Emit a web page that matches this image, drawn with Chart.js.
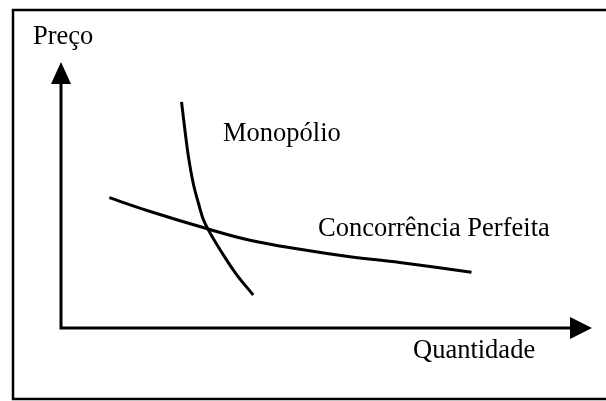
<!DOCTYPE html>
<html>
<head>
<meta charset="utf-8">
<script src="https://cdn.jsdelivr.net/npm/chart.js@4/dist/chart.umd.min.js"></script>
<style>
  html, body { margin: 0; padding: 0; background: #fff; }
  #wrap { width: 606px; height: 401px; }
</style>
</head>
<body>
<div id="wrap"><canvas id="marketChart" width="606" height="401"></canvas></div>
<script>
// curves (quantity 0..100, price 0..50)
const monopolyQty   = [22.7, 23.4, 24.0, 24.9, 25.9, 27.1, 30.6, 33.1, 36.2];
const monopolyPrice = [42.5, 36.7, 32.2, 27.2, 23.4, 19.7, 13.7, 10.0, 6.2];
const perfectQty    = [9.1, 16.8, 27.4, 35.6, 45.0, 54.4, 63.8, 77.3];
const perfectPrice  = [24.5, 21.9, 18.7, 16.5, 14.8, 13.4, 12.3, 10.5];
const axisLabels = ['Preço', 'Quantidade'];
const curveLabels = ['Monopólio', 'Concorrência Perfeita'];

const toPoints = (xs, ys) => xs.map((x, i) => ({ x: x, y: ys[i] }));
const FONT = '26.5px "Liberation Serif", "Times New Roman", serif';

const diagramPlugin = {
    id: 'diagram',
    beforeDatasetsDraw(chart) {
        const c = chart.ctx;
        const a = chart.chartArea;
        c.save();
        c.strokeStyle = '#000';
        c.fillStyle = '#000';
        // frame round the figure
        c.lineWidth = 2.5;
        c.strokeRect(13, 10, 620, 389);
        // axes
        c.lineWidth = 3;
        c.beginPath();
        c.moveTo(a.left, a.top + 18);
        c.lineTo(a.left, a.bottom);
        c.lineTo(a.right - 18, a.bottom);
        c.stroke();
        // arrow heads
        c.beginPath();
        c.moveTo(a.left, a.top);
        c.lineTo(a.left - 10, a.top + 22);
        c.lineTo(a.left + 10, a.top + 22);
        c.closePath();
        c.fill();
        c.beginPath();
        c.moveTo(a.right, a.bottom);
        c.lineTo(a.right - 22, a.bottom - 11);
        c.lineTo(a.right - 22, a.bottom + 11);
        c.closePath();
        c.fill();
        c.restore();
    },
    afterDatasetsDraw(chart) {
        const c = chart.ctx;
        const xs = chart.scales.x, ys = chart.scales.y;
        c.save();
        c.fillStyle = '#000';
        c.font = FONT;
        c.textBaseline = 'alphabetic';
        c.textAlign = 'left';
        c.fillText(axisLabels[0], 33, 44);
        c.fillText(axisLabels[1], 413, 358);
        c.fillText(curveLabels[0], xs.getPixelForValue(30.5), ys.getPixelForValue(35.2));
        c.fillText(curveLabels[1], xs.getPixelForValue(48.4), ys.getPixelForValue(17.3));
        c.restore();
    }
};

new Chart(document.getElementById('marketChart'), {
    type: 'line',
    data: {
        datasets: [
            {
                label: curveLabels[0],
                data: toPoints(monopolyQty, monopolyPrice),
                borderColor: '#000',
                borderWidth: 3,
                pointRadius: 0,
                tension: 0.4,
            },
            {
                label: curveLabels[1],
                data: toPoints(perfectQty, perfectPrice),
                borderColor: '#000',
                borderWidth: 3,
                pointRadius: 0,
                tension: 0.4,
            }
        ]
    },
    plugins: [diagramPlugin],
    options: {
        responsive: false,
        animation: false,
        layout: { padding: { left: 61, top: 62, right: 14, bottom: 73 } },
        plugins: { legend: { display: false }, tooltip: { enabled: false } },
        scales: {
            x: { type: 'linear', min: 0, max: 100, display: false },
            y: { type: 'linear', min: 0, max: 50, display: false }
        }
    }
});
</script>
</body>
</html>
